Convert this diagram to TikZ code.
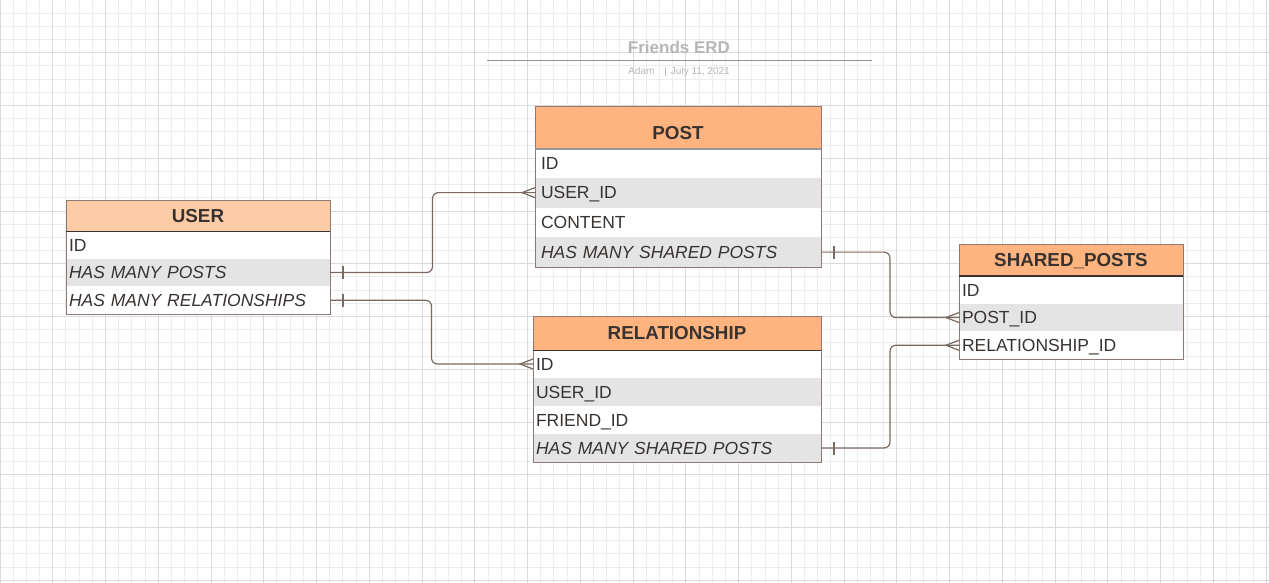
\documentclass[tikz,border=0pt]{standalone}
\usepackage{fontspec}
\setmainfont{Liberation Sans}
\usetikzlibrary{calc}

\definecolor{hdr}{HTML}{FFB47F}
\definecolor{hdrlight}{HTML}{FDCBA6}
\definecolor{rowgray}{HTML}{E4E4E4}
\definecolor{ink}{HTML}{383330}
\definecolor{edge}{HTML}{8C7B74}
\definecolor{link}{HTML}{7A6A62}
\definecolor{titlegray}{HTML}{B6B6B6}
\definecolor{rulegray}{HTML}{9A8F8A}
\definecolor{gridminor}{HTML}{EDEDED}
\definecolor{gridmajor}{HTML}{DADADA}

\begin{document}
\begin{tikzpicture}[x=1pt, y=-1pt]
\path [use as bounding box] (0,0) rectangle (1269,583);
\fill[white] (0,0) rectangle (1269,583);
% grid paper
\foreach \i in {0,...,96} \draw[gridminor, line width=1pt] (\i*13.19,0) -- (\i*13.19,583);
\foreach \j in {0,...,44} \draw[gridminor, line width=1pt] (0,\j*13.19) -- (1269,\j*13.19);
\foreach \i in {0,...,24} \draw[gridmajor, line width=1pt] (\i*52.76,0) -- (\i*52.76,583);
\foreach \j in {0,...,11} \draw[gridmajor, line width=1pt] (0,\j*52.76) -- (1269,\j*52.76);

\tikzstyle{head} = [anchor=north west, outer sep=0pt, inner ysep=3pt, align=center, text=ink, font=\fontsize{18.8}{20}\selectfont\bfseries, text height=13.5pt, text depth=0pt]
\tikzstyle{row} = [anchor=north west, outer sep=0pt, inner ysep=3pt, align=left, fill=white, text=ink, font=\fontsize{17.5}{19}\selectfont, text height=12.5pt, text depth=0pt]
\tikzstyle{box} = [draw=edge, line width=1pt]
\tikzstyle{rel} = [draw=link, line width=1.2pt, rounded corners=6pt]
\tikzstyle{foot} = [draw=link, line width=1.2pt]

% title
\node[anchor=base, text=titlegray, font=\fontsize{17}{19}\selectfont\bfseries] (title) at (679,54) {Friends ERD};
\draw[rulegray, line width=1pt] (487,60.7) -- (872,60.7);
\node[anchor=base, text=titlegray, font=\fontsize{10}{12}\selectfont] (byline) at (679,74.3) {Adam\hspace{10pt}|\hspace{4pt}July 11, 2021};

% USER
\begin{scope}[nodes={text width=258pt, inner xsep=3pt, minimum height=27.7pt}]
\node[head, fill=hdrlight, minimum height=31pt] (user) at (66,200) {USER};
\node[row] (user-id) at (user.south west) {ID};
\node[row, fill=rowgray, font=\fontsize{17.5}{19}\selectfont\itshape] (user-posts) at (user-id.south west) {HAS MANY POSTS};
\node[row, font=\fontsize{17.5}{19}\selectfont\itshape] (user-rels) at (user-posts.south west) {HAS MANY RELATIONSHIPS};
\end{scope}
\draw[box] (user.north west) rectangle (user-rels.south east);
\draw[ink, line width=1pt] (user.south west) -- (user.south east);

% POST
\begin{scope}[nodes={text width=274pt, inner xsep=6pt, minimum height=29.75pt}]
\node[head, fill=hdr, minimum height=41pt, text height=23.5pt] (post) at (535,107) {POST};
\node[row] (post-id) at (post.south west) {ID};
\node[row, fill=rowgray] (post-userid) at (post-id.south west) {USER\_ID};
\node[row] (post-content) at (post-userid.south west) {CONTENT};
\node[row, fill=rowgray, font=\fontsize{17.5}{19}\selectfont\itshape] (post-shared) at (post-content.south west) {HAS MANY SHARED POSTS};
\end{scope}
\draw[box] (post.north west) rectangle (post-shared.south east);
\draw[gray!80, line width=2.5pt] ([yshift=-1pt]post.south west) -- ([yshift=-1pt]post.south east);

% RELATIONSHIP
\begin{scope}[nodes={text width=282pt, inner xsep=3pt, minimum height=28pt}]
\node[head, fill=hdr, minimum height=34pt] (rel) at (533,316) {RELATIONSHIP};
\node[row] (rel-id) at (rel.south west) {ID};
\node[row, fill=rowgray] (rel-userid) at (rel-id.south west) {USER\_ID};
\node[row] (rel-friendid) at (rel-userid.south west) {FRIEND\_ID};
\node[row, fill=rowgray, font=\fontsize{17.5}{19}\selectfont\itshape] (rel-shared) at (rel-friendid.south west) {HAS MANY SHARED POSTS};
\end{scope}
\draw[box] (rel.north west) rectangle (rel-shared.south east);
\draw[ink, line width=1pt] (rel.south west) -- (rel.south east);

% SHARED_POSTS
\begin{scope}[nodes={text width=218pt, inner xsep=3pt, minimum height=27.7pt}]
\node[head, fill=hdr, minimum height=32pt] (shared) at (959,244) {SHARED\_POSTS};
\node[row] (sp-id) at (shared.south west) {ID};
\node[row, fill=rowgray] (sp-postid) at (sp-id.south west) {POST\_ID};
\node[row] (sp-relid) at (sp-postid.south west) {RELATIONSHIP\_ID};
\end{scope}
\draw[box] (shared.north west) rectangle (sp-relid.south east);
\draw[ink, line width=1.2pt] (shared.south west) -- (shared.south east);

% relations, one side to many side
\draw[rel] (user-posts.east) -| ($(user-posts.east)!.5!(post-userid.west)$) |- (post-userid.west);
\draw[rel] (user-rels.east) -| ($(user-rels.east)!.5!(rel-id.west)$) |- (rel-id.west);
\draw[rel] (post-shared.east) -| ($(post-shared.east)!.5!(sp-postid.west)$) |- (sp-postid.west);
\draw[rel] (rel-shared.east) -| ($(rel-shared.east)!.5!(sp-relid.west)$) |- (sp-relid.west);

% one ends
\draw[foot] ($(user-posts.east)+(13,-6.5)$) -- ($(user-posts.east)+(13,6.5)$);
\draw[foot] ($(user-rels.east)+(13,-6.5)$) -- ($(user-rels.east)+(13,6.5)$);
\draw[foot] ($(post-shared.east)+(13,-6.5)$) -- ($(post-shared.east)+(13,6.5)$);
\draw[foot] ($(rel-shared.east)+(13,-6.5)$) -- ($(rel-shared.east)+(13,6.5)$);

% many ends
\draw[foot] ($(post-userid.west)+(0,-5)$) -- ($(post-userid.west)+(-13,0)$) -- ($(post-userid.west)+(0,5)$);
\draw[foot] ($(rel-id.west)+(0,-5)$) -- ($(rel-id.west)+(-13,0)$) -- ($(rel-id.west)+(0,5)$);
\draw[foot] ($(sp-postid.west)+(0,-5)$) -- ($(sp-postid.west)+(-13,0)$) -- ($(sp-postid.west)+(0,5)$);
\draw[foot] ($(sp-relid.west)+(0,-5)$) -- ($(sp-relid.west)+(-13,0)$) -- ($(sp-relid.west)+(0,5)$);
\end{tikzpicture}
\end{document}
